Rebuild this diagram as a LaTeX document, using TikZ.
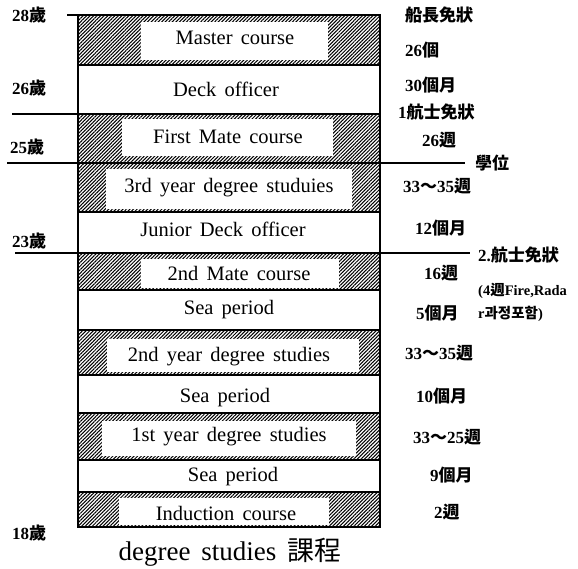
\documentclass[tikz,border=0pt]{standalone}
\usepackage{fontspec}
\setmainfont{Liberation Serif}[WordSpace=1.6]
\newfontfamily\cjk{Noto Sans CJK KR}
\usetikzlibrary{patterns.meta}
\newcommand\hz[1]{{\cjk\bfseries #1}}
\begin{document}
\begin{tikzpicture}[x=1pt,y=-1pt,
  hatchfill/.style={pattern={Lines[angle=45,distance=2.5pt,line width=1.05pt]}},
  frame/.style={draw=black,line width=1.5pt},
  sep/.style={draw=black,line width=1.3pt},
  tick/.style={draw=black,line width=1.1pt},
  bandtext/.style={font=\fontsize{20.5}{22}\selectfont,inner sep=0pt},
  lbl/.style={font=\fontsize{17}{19}\selectfont\bfseries,inner sep=0pt,anchor=west},
  note/.style={font=\fontsize{14.5}{16}\selectfont\bfseries,inner sep=0pt,anchor=west},
  age/.style={font=\fontsize{17}{19}\selectfont\bfseries,inner sep=0pt,anchor=west},
  caption/.style={font=\fontsize{27}{30}\selectfont,inner sep=0pt}]
\useasboundingbox (0,0) rectangle (578,569);
% hatched bands: outer hatch, inner white
\foreach \t/\b/\il/\ir/\it/\ib in {15/65/141/328/22/60, 114/163/122/333/119/156, 163/212/106/352/169/209, 253/290/141/339/259/288, 330/375/107/359/339/372, 413/460/102/356/421/456, 492/527/119/329/498/525}{
  \fill[hatchfill] (78,\t) rectangle (380,\b);
  \fill[white] (\il,\it) rectangle (\ir,\ib);
}
% band separators
\foreach \y in {65,114,163,212,253,290,330,375,413,460,492}{
  \draw[sep] (78,\y) -- (380,\y);
}
% outer frame
\draw[frame] (78,15) rectangle (380,527);
% band texts
\node[bandtext] (master) at (235,38) {Master course};
\node[bandtext] (deck) at (226,89) {Deck officer};
\node[bandtext] (first) at (228,137) {First Mate course};
\node[bandtext] (third) at (229,188) {3rd year degree studuies};
\node[bandtext] (junior) at (223,229) {Junior Deck officer};
\node[bandtext] (mate2) at (239,273) {2nd Mate course};
\node[bandtext] (sea1) at (229,310) {Sea period};
\node[bandtext] (year2) at (229,357) {2nd year degree studies};
\node[bandtext] (sea2) at (225,398) {Sea period};
\node[bandtext] (year1) at (229,437) {1st year degree studies};
\node[bandtext] (sea3) at (233,477) {Sea period};
\node[bandtext] (induct) at (226,513) {Induction course};
% left age labels and ticks
\node[age] (a28) at (12,15) {28\hz{歲}};
\node[age] (a26) at (12,88) {26\hz{歲}};
\node[age] (a25) at (10,147) {25\hz{歲}};
\node[age] (a23) at (12,241) {23\hz{歲}};
\node[age] (a18) at (12,533) {18\hz{歲}};
\coordinate (t28a) at (67,15);  \coordinate (t28b) at (78,15);
\coordinate (t26a) at (12,114); \coordinate (t26b) at (78,114);
\coordinate (t25a) at (7,163);  \coordinate (t25b) at (78,163);
\coordinate (t23a) at (15,253); \coordinate (t23b) at (78,253);
\coordinate (r25a) at (380,163); \coordinate (r25b) at (465,163);
\coordinate (r23a) at (380,253); \coordinate (r23b) at (470,253);
\draw[tick] (t28a) -- (t28b);
\draw[tick] (t26a) -- (t26b);
\draw[tick] (t25a) -- (t25b);
\draw[tick] (t23a) -- (t23b);
\draw[tick] (r25a) -- (r25b);
\draw[tick] (r23a) -- (r23b);
% right labels
\node[lbl] (cap) at (405,15) {\hz{船長免狀}};
\node[lbl] (d1) at (405,50) {26\hz{個}};
\node[lbl] (d2) at (405,85) {30\hz{個月}};
\node[lbl] (lic1) at (398,112) {1\hz{航士免狀}};
\node[lbl] (d3) at (422,140) {26\hz{週}};
\node[lbl] (deg) at (475,163) {\hz{學位}};
\node[lbl] (d4) at (403,186) {33\hz{～}35\hz{週}};
\node[lbl] (d5) at (415,228) {12\hz{個月}};
\node[lbl] (lic2) at (478,255) {2.\hz{航士免狀}};
\node[lbl] (d6) at (424,273) {16\hz{週}};
\node[note] (n1) at (478,291) {(4\hz{週}Fire,Rada};
\node[note] (n2) at (478,314) {r\hz{과정포함})};
\node[lbl] (d7) at (416,313) {5\hz{個月}};
\node[lbl] (d8) at (405,353) {33\hz{～}35\hz{週}};
\node[lbl] (d9) at (416,396) {10\hz{個月}};
\node[lbl] (d10) at (413,437) {33\hz{～}25\hz{週}};
\node[lbl] (d11) at (430,475) {9\hz{個月}};
\node[lbl] (d12) at (434,512) {2\hz{週}};
% caption
\node[caption] (capt) at (230,552) {degree studies {\cjk 課程}};
\end{tikzpicture}
\end{document}
